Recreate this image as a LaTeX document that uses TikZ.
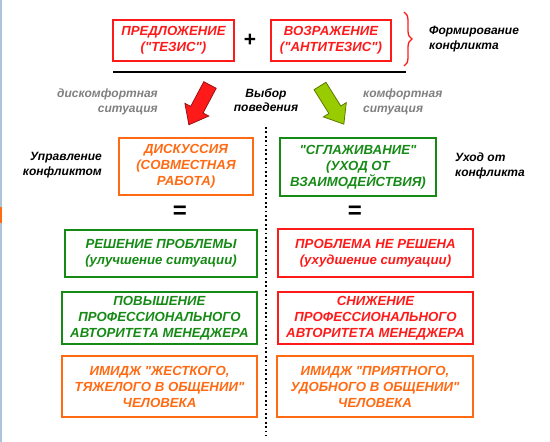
\documentclass[tikz,border=0pt]{standalone}
\usepackage{fontspec}
\setmainfont{Liberation Sans}[Ligatures=TeXOff]
\usepackage{tikz}
\usetikzlibrary{positioning, decorations.pathreplacing}
\definecolor{cRed}{HTML}{FF1A1A}
\definecolor{cOrange}{HTML}{FF6A13}
\definecolor{cGreen}{HTML}{158A15}
\definecolor{cGray}{HTML}{808080}
\definecolor{cLime}{HTML}{99CC00}
\definecolor{cEdge}{HTML}{A9C4DC}
\newcommand{\boxfont}{\fontsize{13.2}{16}\selectfont\bfseries\itshape}
\newcommand{\notefont}{\fontsize{12}{14.5}\selectfont\bfseries\itshape}

\begin{document}
\begin{tikzpicture}[x=1pt, y=-1pt,
    box/.style={draw, line width=1.6pt, align=center, inner sep=1pt, font=\boxfont},
    note/.style={font=\notefont, inner sep=0pt}]
  \useasboundingbox (0,0) rectangle (550,442);
  \fill[cEdge] (0,0) rectangle (2,442);
  \fill[cOrange] (0,207) rectangle (2,223);

  % conflict forming
  \node[box, cRed, minimum width=121pt, minimum height=41pt] (thesis) at (173.5,40.5)
    {ПРЕДЛОЖЕНИЕ\\("ТЕЗИС")};
  \node[box, cRed, minimum width=120pt, minimum height=41pt] (anti) at (331,40.5)
    {ВОЗРАЖЕНИЕ\\("АНТИТЕЗИС")};
  \node[font=\fontsize{21}{21}\selectfont\bfseries] (plus) at (250,40) {+};
  \draw[cRed, line width=1.3pt, decorate, decoration={brace, amplitude=8pt}]
    (404,12) -- (404,66);
  \node[note, align=left, anchor=west] (forming) at (429,39) {Формирование\\конфликта};
  \draw[line width=2.4pt] (113,72) -- (406,72);

  % choice
  \foreach \px/\py/\ang/\fc in {210/85/-118/cRed, 320/86/-58/cLime}
    \draw[fill=\fc, draw=\fc!60!black, line width=0.8pt, line join=miter,
          shift={(\px,\py)}, rotate=\ang]
      (0,-7) -- (28,-7) -- (28,-13.5) -- (45,0) -- (28,13.5) -- (28,7) -- (0,7) -- cycle;
  \node[note, align=center] (choice) at (266,100) {Выбор\\поведения};
  \node[note, text=cGray, align=right, anchor=east] (discomf) at (158,102) {дискомфортная\\ситуация};
  \node[note, text=cGray, align=left, anchor=west] (comf) at (363,102) {комфортная\\ситуация};
  \draw[line width=1.6pt, dash pattern=on 1.8pt off 2.6pt] (266,127) -- (266,436);

  % two strategies
  \node[box, cOrange, minimum width=134pt, minimum height=57pt] (discuss) at (186,166.5)
    {ДИСКУССИЯ\\(СОВМЕСТНАЯ\\РАБОТА)};
  \node[box, cGreen, minimum width=156pt, minimum height=58pt] (smooth) at (358,167)
    {"СГЛАЖИВАНИЕ"\\(УХОД ОТ\\ВЗАИМОДЕЙСТВИЯ)};
  \node[note, align=right, anchor=east] (manage) at (102,165) {Управление\\конфликтом};
  \node[note, align=left, anchor=west] (escape) at (455,166) {Уход от\\конфликта};
  \node[font=\fontsize{24}{24}\selectfont\bfseries] (eqL) at (180,212) {=};
  \node[font=\fontsize{24}{24}\selectfont\bfseries] (eqR) at (355,212) {=};

  % results
  \node[box, cGreen, minimum width=192pt, minimum height=47pt] (solvedL) at (161,253.5)
    {РЕШЕНИЕ ПРОБЛЕМЫ\\(улучшение ситуации)};
  \node[box, cRed, minimum width=195pt, minimum height=48pt] (solvedR) at (375.5,253)
    {ПРОБЛЕМА НЕ РЕШЕНА\\(ухудшение ситуации)};
  \node[box, cGreen, minimum width=195pt, minimum height=52pt] (authL) at (159.5,318)
    {ПОВЫШЕНИЕ\\ПРОФЕССИОНАЛЬНОГО\\АВТОРИТЕТА МЕНЕДЖЕРА};
  \node[box, cRed, minimum width=195pt, minimum height=52pt] (authR) at (375.5,318)
    {СНИЖЕНИЕ\\ПРОФЕССИОНАЛЬНОГО\\АВТОРИТЕТА МЕНЕДЖЕРА};
  \node[box, cOrange, minimum width=195pt, minimum height=61pt] (imageL) at (159.5,386.5)
    {ИМИДЖ "ЖЕСТКОГО,\\ТЯЖЕЛОГО В ОБЩЕНИИ"\\ЧЕЛОВЕКА};
  \node[box, cOrange, minimum width=196pt, minimum height=61pt] (imageR) at (375,386.5)
    {ИМИДЖ "ПРИЯТНОГО,\\УДОБНОГО В ОБЩЕНИИ"\\ЧЕЛОВЕКА};
\end{tikzpicture}
\end{document}
